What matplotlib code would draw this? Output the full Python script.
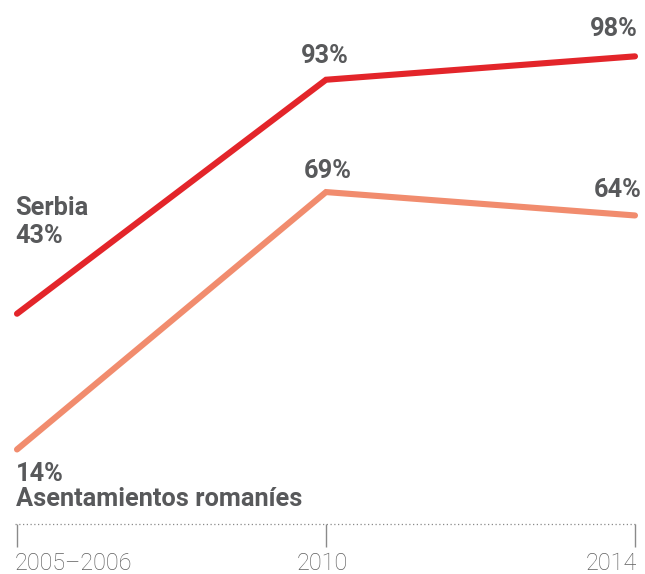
import numpy as np
import matplotlib.pyplot as plt

# survey rounds and shares (%)
periods = ["2005–2006", "2010", "2014"]
serbia = [43, 93, 98]
roma = [14, 69, 64]

RED = "#e3252a"
SALMON = "#f18c6e"
TXT = "#58595b"
AXC = "#8a8a8a"

plt.rcParams['font.family'] = ['Roboto', 'DejaVu Sans']

fig = plt.figure(figsize=(6.45, 5.74), dpi=100)
ax = fig.add_axes([0, 0, 1, 1])
ax.set_xlim(-0.055, 2.0324)
ax.set_ylim(-12.61, 110.04)
ax.axis('off')

x = np.arange(len(periods))
ax.plot(x, serbia, color=RED, lw=4.4, solid_capstyle='round', solid_joinstyle='miter')
ax.plot(x, roma, color=SALMON, lw=4.4, solid_capstyle='round', solid_joinstyle='miter')

# baseline with tick marks
ax.plot([-0.006, 2.0], [-1.9, -1.9], color=AXC, lw=0.9, ls=(0, (1, 2)))
ax.vlines(x, -6.9, -1.9, color=AXC, lw=1.0)

lbl = dict(fontsize=18.3, fontweight='bold', color=TXT, textcoords='offset points', va='baseline')

def val(v):
    return f"{v}%"

# start labels
ax.annotate("Serbia", (0, serbia[0]), xytext=(-1.5, 71), ha='left', **lbl)
ax.annotate(val(serbia[0]), (0, serbia[0]), xytext=(-1.5, 51), ha='left', **lbl)
ax.annotate(val(roma[0]), (0, roma[0]), xytext=(-0.5, -22.5), ha='left', **lbl)
ax.annotate("Asentamientos romaníes", (0, roma[0]), xytext=(-0.5, -41), ha='left', **lbl)

# later values
ax.annotate(val(serbia[1]), (1, serbia[1]), xytext=(-1, 12), ha='center', **lbl)
ax.annotate(val(roma[1]), (1, roma[1]), xytext=(1.5, 10), ha='center', **lbl)
ax.annotate(val(serbia[2]), (2, serbia[2]), xytext=(2, 14.5), ha='right', **lbl)
ax.annotate(val(roma[2]), (2, roma[2]), xytext=(5, 13.5), ha='right', **lbl)

# period labels, baseline just above the bottom edge
tk = dict(fontsize=16.8, fontweight='light', color="#5f5f5f", va='baseline')
ybase = -11.7
ax.text(0 - 0.008, ybase, periods[0], ha='left', **tk)
ax.text(1 - 0.012, ybase, periods[1], ha='center', **tk)
ax.text(2 + 0.007, ybase, periods[2], ha='right', **tk)

fig.savefig("out.png", dpi=100)
